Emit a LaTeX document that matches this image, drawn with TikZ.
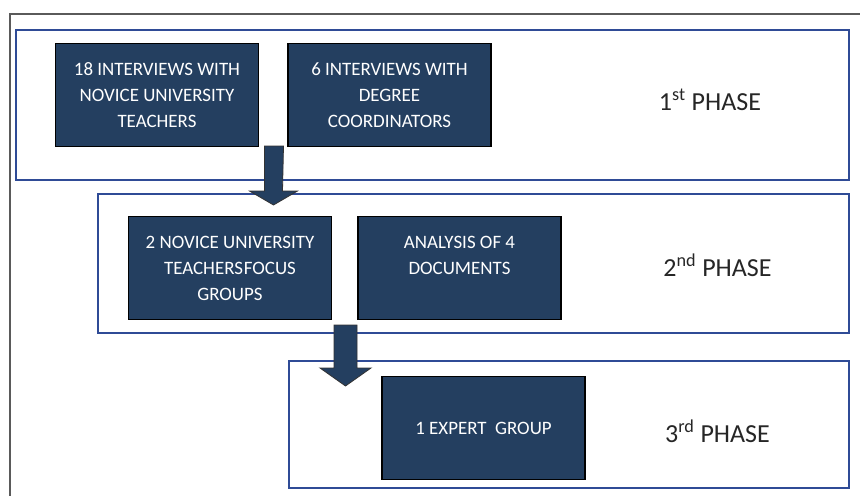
\documentclass[tikz,border=0pt]{standalone}
\usepackage{fontspec}
\setmainfont{Carlito}
\definecolor{boxblue}{RGB}{36,63,96}
\definecolor{phaseblue}{RGB}{47,75,150}
\definecolor{framegray}{RGB}{90,90,90}
\tikzset{
  darkbox/.style={draw=black, line width=0.9pt, fill=boxblue, text=white, align=center, inner sep=0pt,
    minimum width=152.25pt, minimum height=77.25pt, font=\fontsize{14.2}{19.5}\selectfont},
  phasebox/.style={draw=phaseblue, line width=0.9pt, inner sep=0pt},
  phaselabel/.style={font=\fontsize{19.5}{22}\selectfont, text=black!85, inner sep=0pt},
  blockarrow/.style={fill=boxblue, draw=black!80, line width=0.6pt, line join=miter}
}
\begin{document}
\begin{tikzpicture}[x=0.75pt, y=-0.75pt]
\useasboundingbox (0,0) rectangle (860,496);
% outer frame (cropped)
\draw[framegray, line width=1.5pt] (10,496) -- (10,14) -- (860,14);
% phase boxes
\node[phasebox, minimum width=624.75pt, minimum height=112.5pt] (p1) at (432.5,105) {};
\node[phasebox, minimum width=563.25pt, minimum height=104.25pt] (p2) at (473.5,263.5) {};
\node[phasebox, minimum width=420pt, minimum height=95.25pt] (p3) at (569,424.5) {};
% dark boxes
\node[darkbox] (b1) at (157,95) {18 INTERVIEWS WITH\\NOVICE UNIVERSITY\\TEACHERS};
\node[darkbox] (b2) at (389.5,95) {6 INTERVIEWS WITH\\DEGREE\\COORDINATORS};
\node[darkbox] (b3) at (230,268) {2 NOVICE UNIVERSITY\\TEACHERS\hspace{0.05em}FOCUS\\GROUPS};
\node[darkbox] (b4) at (459.5,268) {ANALYSIS OF 4\\DOCUMENTS\\\mbox{}};
\node[darkbox] (b5) at (483.5,428) {1 EXPERT\ \ GROUP};
% phase labels
\node[phaselabel] (l1) at (710,100) {1\textsuperscript{st} PHASE};
\node[phaselabel] (l2) at (717.5,265) {2\textsuperscript{nd} PHASE};
\node[phaselabel] (l3) at (717.5,431) {3\textsuperscript{rd} PHASE};
% block arrows
\coordinate (a1) at (274,146);
\coordinate (a2) at (345.5,325);
\draw[blockarrow] ([xshift=-9.5*0.75pt]a1) -- ++(0,45) -- ++(-15,0) -- ++(24,14) -- ++(24,-14) -- ++(-15,0) -- ([xshift=9.5*0.75pt]a1) -- cycle;
\draw[blockarrow] ([xshift=-11.5*0.75pt]a2) -- ++(0,43) -- ++(-14,0) -- ++(25.5,18) -- ++(25.5,-18) -- ++(-14,0) -- ([xshift=11.5*0.75pt]a2) -- cycle;
\end{tikzpicture}
\end{document}
